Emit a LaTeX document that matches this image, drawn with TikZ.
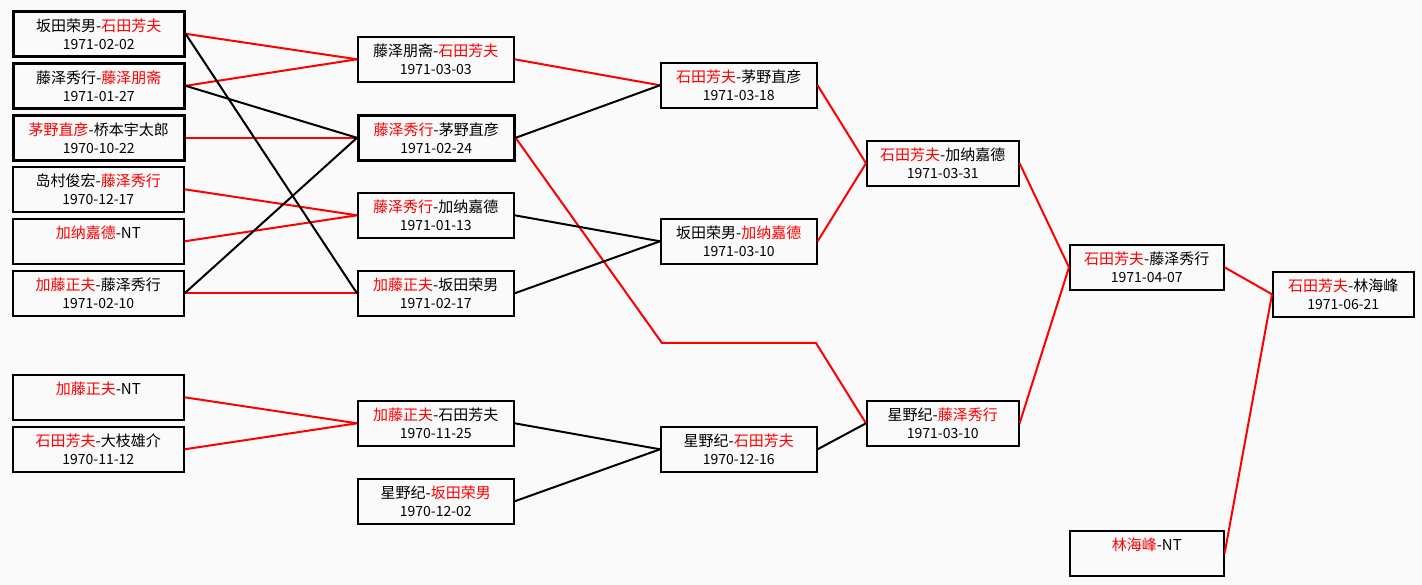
\documentclass[tikz,border=0pt]{standalone}
\usepackage{fontspec}
\setmainfont{Noto Sans CJK SC}
\newcommand{\rosso}[1]{\textcolor{red}{#1}}
\newcommand{\giorno}[1]{{\fontsize{14}{18}\selectfont #1}}
\tikzset{
  partita/.style={draw, line width=1.6pt, anchor=north west, minimum height=45pt,
    inner sep=0pt, align=center, font=\fontsize{15}{18}\selectfont},
  forte/.style={partita, line width=2.6pt},
  vince/.style={red, line width=2pt},
  perde/.style={black, line width=2pt}
}
\begin{document}
\begin{tikzpicture}[x=1pt, y=-1pt]
    % Sfondo
    \fill[white!98!black] (0,0) rectangle (1422,585);
    \useasboundingbox (0,0) rectangle (1422,585);

    % Primo turno
    \node[forte, minimum width=171pt] (a1) at (12,10) {坂田荣男-\rosso{石田芳夫}\\\giorno{1971-02-02}};
    \node[forte, minimum width=171pt] (a2) at (12,62) {藤泽秀行-\rosso{藤泽朋斋}\\\giorno{1971-01-27}};
    \node[forte, minimum width=171pt] (a3) at (12,114) {\rosso{茅野直彦}-桥本宇太郎\\\giorno{1970-10-22}};
    \node[partita, minimum width=171pt] (a4) at (12,166) {岛村俊宏-\rosso{藤泽秀行}\\\giorno{1970-12-17}};
    \node[partita, minimum width=171pt] (a5) at (12,218) {\rosso{加纳嘉德}-NT\\\giorno{~}};
    \node[partita, minimum width=171pt] (a6) at (12,270) {\rosso{加藤正夫}-藤泽秀行\\\giorno{1971-02-10}};
    \node[partita, minimum width=171pt] (a7) at (12,374) {\rosso{加藤正夫}-NT\\\giorno{~}};
    \node[partita, minimum width=171pt] (a8) at (12,426) {\rosso{石田芳夫}-大枝雄介\\\giorno{1970-11-12}};

    % Secondo turno
    \node[partita, minimum width=156pt] (b1) at (357,36) {藤泽朋斋-\rosso{石田芳夫}\\\giorno{1971-03-03}};
    \node[forte, minimum width=156pt] (b2) at (357,114) {\rosso{藤泽秀行}-茅野直彦\\\giorno{1971-02-24}};
    \node[partita, minimum width=156pt] (b3) at (357,192) {\rosso{藤泽秀行}-加纳嘉德\\\giorno{1971-01-13}};
    \node[partita, minimum width=156pt] (b4) at (357,270) {\rosso{加藤正夫}-坂田荣男\\\giorno{1971-02-17}};
    \node[partita, minimum width=156pt] (b5) at (357,400) {\rosso{加藤正夫}-石田芳夫\\\giorno{1970-11-25}};
    \node[partita, minimum width=156pt] (b6) at (357,478) {星野纪-\rosso{坂田荣男}\\\giorno{1970-12-02}};

    % Terzo turno
    \node[partita, minimum width=156pt] (c1) at (660,62) {\rosso{石田芳夫}-茅野直彦\\\giorno{1971-03-18}};
    \node[partita, minimum width=156pt] (c2) at (660,218) {坂田荣男-\rosso{加纳嘉德}\\\giorno{1971-03-10}};
    \node[partita, minimum width=156pt] (c3) at (660,426) {星野纪-\rosso{石田芳夫}\\\giorno{1970-12-16}};

    % Semifinali e finale
    \node[partita, minimum width=152pt] (d1) at (866,140) {\rosso{石田芳夫}-加纳嘉德\\\giorno{1971-03-31}};
    \node[partita, minimum width=152pt] (d2) at (866,400) {星野纪-\rosso{藤泽秀行}\\\giorno{1971-03-10}};
    \node[partita, minimum width=154pt] (e1) at (1069,244) {\rosso{石田芳夫}-藤泽秀行\\\giorno{1971-04-07}};
    \node[partita, minimum width=154pt] (e2) at (1069,530) {\rosso{林海峰}-NT\\\giorno{~}};
    \node[partita, minimum width=141pt] (f1) at (1272,271) {\rosso{石田芳夫}-林海峰\\\giorno{1971-06-21}};

    % Vincitori (rosso)
    \draw[vince] (a1.east) -- (b1.west);
    \draw[vince] (a2.east) -- (b1.west);
    \draw[vince] (a3.east) -- (b2.west);
    \draw[vince] (a4.east) -- (b3.west);
    \draw[vince] (a5.east) -- (b3.west);
    \draw[vince] (a6.east) -- (b4.west);
    \draw[vince] (a7.east) -- (b5.west);
    \draw[vince] (a8.east) -- (b5.west);
    \draw[vince] (b1.east) -- (c1.west);
    \coordinate (k1) at (662,343);
    \coordinate (k2) at (816,343);
    \draw[vince] (b2.east) -- (k1) -- (k2) -- (d2.west);
    \draw[vince] (c1.east) -- (d1.west);
    \draw[vince] (c2.east) -- (d1.west);
    \draw[vince] (d1.east) -- (e1.west);
    \draw[vince] (d2.east) -- (e1.west);
    \draw[vince] (e1.east) -- (f1.west);
    \draw[vince] (e2.east) -- (f1.west);

    % Perdenti (nero)
    \draw[perde] (a1.east) -- (b4.west);
    \draw[perde] (a2.east) -- (b2.west);
    \draw[perde] (a6.east) -- (b2.west);
    \draw[perde] (b2.east) -- (c1.west);
    \draw[perde] (b3.east) -- (c2.west);
    \draw[perde] (b4.east) -- (c2.west);
    \draw[perde] (b5.east) -- (c3.west);
    \draw[perde] (b6.east) -- (c3.west);
    \draw[perde] (c3.east) -- (d2.west);
\end{tikzpicture}
\end{document}
